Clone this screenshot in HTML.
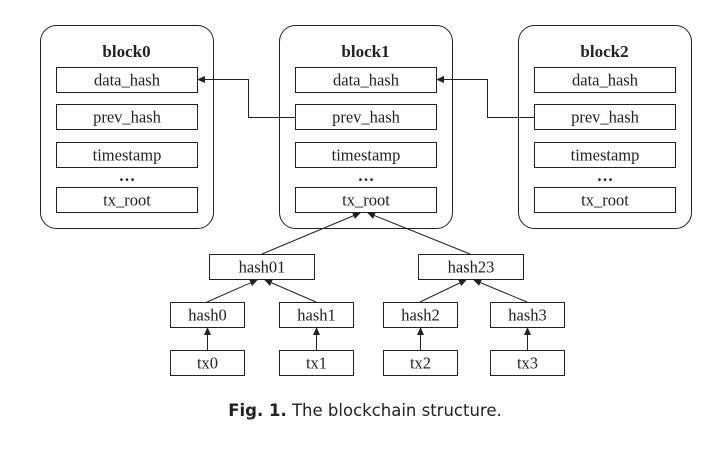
<!DOCTYPE html>
<html><head><meta charset="utf-8"><style>
html,body{margin:0;padding:0;background:#fff;width:713px;height:450px;overflow:hidden}
svg text{font-family:"Liberation Serif",serif;font-size:16.5px;fill:#222}
</style></head><body>
<svg width="713" height="450" viewBox="0 0 713 450">
<defs><marker id="ah" markerWidth="8" markerHeight="8" refX="7" refY="4" orient="auto" markerUnits="userSpaceOnUse"><path d="M0,0.5 L8,4 L0,7.5 Z" fill="#222"/></marker></defs>
<text x="365" y="416" text-anchor="middle" style="font-family:'DejaVu Sans','Liberation Sans',sans-serif;font-size:16.5px"><tspan font-weight="bold">Fig. 1.</tspan> The blockchain structure.</text>
</svg>
<script>
const NS="http://www.w3.org/2000/svg";
const svg=document.querySelector('svg');
function el(t,a,p){const e=document.createElementNS(NS,t);for(const k in a)e.setAttribute(k,a[k]);(p||svg).appendChild(e);return e;}
const blockNames=["block0","block1","block2"];
const fields=["data_hash","prev_hash","timestamp","tx_root"];
const fieldY=[67,104,142,187];
blockNames.forEach((n,i)=>{
 const x=40+i*239;
 const r=el('rect',{x:x+0.5,y:25.5,width:173,height:203,rx:16,fill:'none',stroke:'#222'});
 
 
 const t=el('text',{x:x+86.5,y:57,'text-anchor':'middle','font-weight':'bold',style:'font-size:17px'});t.textContent=n;
 
 
 fields.forEach((f,j)=>{
  const b=el('rect',{x:x+16.5,y:fieldY[j]+0.5,width:141,height:25,fill:'none',stroke:'#222'});
  
  
  const tt=el('text',{x:x+87,y:fieldY[j]+18.5,'text-anchor':'middle'});tt.textContent=f;
  
  
 });
 const d=el('text',{x:x+87,y:181,'text-anchor':'middle','font-weight':'bold'});d.textContent="…";
 
 
 if(i>0){
  const px=x+16, mx=px-47, tx=x-239+157;
  const p=el('path',{d:`M${px},117.5 H${mx+0.5} V79.5 H${tx+1}`,fill:'none',stroke:'#222','marker-end':'url(#ah)'});
  
  
 }
});
function box(name,x,y,w){
 const b=el('rect',{x:x+0.5,y:y+0.5,width:w,height:25,fill:'none',stroke:'#222'});
 
 
 const t=el('text',{x:x+w/2+0.5,y:y+18.5,'text-anchor':'middle'});t.textContent=name;
 
 
}
function arrow(name,x1,y1,x2,y2){
 const l=el('line',{x1,y1,x2,y2,stroke:'#222','marker-end':'url(#ah)'});
 
 
}
box('hash01',209,254,105);box('hash23',418,254,105);
const hx=[170,279,383,490];
hx.forEach((x,i)=>{box('hash'+i,x,302,74);box('tx'+i,x,350,74);arrow('tx'+i+'-arrow',x+37.5,350,x+37.5,328);});
arrow('hash01-arrow',262,254,360,213);arrow('hash23-arrow',470,254,368,213);
arrow('hash0-arrow',207,302,257,280);arrow('hash1-arrow',316,302,265,280);
arrow('hash2-arrow',420,302,466,280);arrow('hash3-arrow',527,302,474,280);
</script>
</body></html>
